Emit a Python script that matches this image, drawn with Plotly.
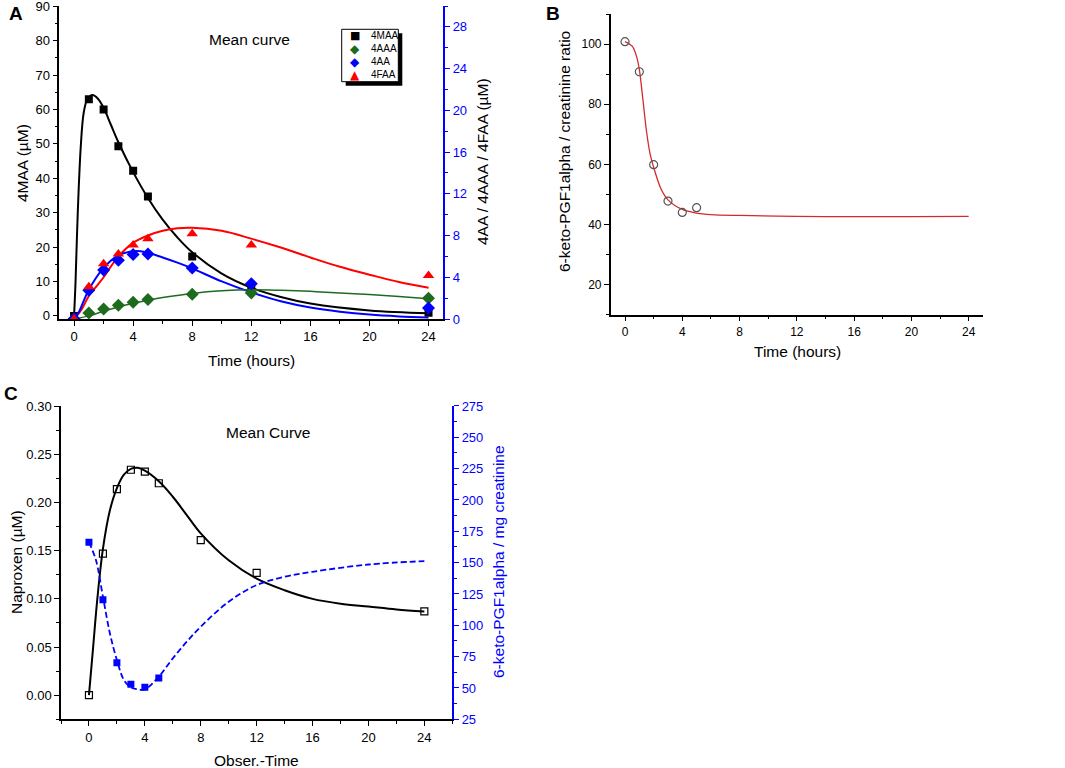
import plotly.graph_objects as go

W, H = 1065, 768
BLUE = "#0000ff"
GREEN = "#1e6b1e"
RED = "#ff0000"
FONT = "Liberation Sans, Arial, sans-serif"

# ---- panel A: measured means ----
t_a = [0, 1, 2, 3, 4, 5, 8, 12, 24]
mmaa = [0, 63, 60, 49.3, 42.2, 34.7, 17.3, 8, 0.9]
aaa = [0, 0.58, 0.96, 1.31, 1.6, 1.86, 2.37, 2.5, 2.0]
aa = [0, 2.75, 4.7, 5.63, 6.18, 6.24, 4.9, 3.39, 1.06]
faa = [0, 3.1, 5.3, 6.24, 7.1, 7.7, 8.16, 7.1, 4.16]

# panel A: fitted curves
t_mmaa_fit = [0, 0.1, 0.25, 0.45, 0.65, 0.9, 1.25, 1.6, 2, 2.5, 3, 4, 5, 6, 7, 8, 10, 12, 14, 16, 20, 24]
mmaa_fit = [0, 10, 30, 49, 59, 63, 64.2, 63.2, 60.5, 55.5, 50.5, 41.8, 34.3, 28, 22.8, 18.5, 12.3, 8.2, 5.5, 3.6, 1.6, 0.8]
t_aaa_fit = [0, 1, 2, 3, 4, 5, 6, 8, 10, 12, 14, 16, 18, 20, 22, 24]
aaa_fit = [0, 0.3, 0.75, 1.15, 1.5, 1.8, 2.05, 2.45, 2.7, 2.8, 2.75, 2.65, 2.5, 2.35, 2.15, 1.95]
t_aa_fit = [0, 0.3, 1, 2, 3, 4, 4.5, 5, 6, 7, 8, 10, 12, 14, 16, 18, 20, 22, 24]
aa_fit = [0, 0.6, 2.8, 4.9, 6.1, 6.5, 6.5, 6.35, 5.9, 5.4, 4.85, 3.6, 2.55, 1.7, 1.1, 0.7, 0.42, 0.25, 0.15]
t_faa_fit = [0, 0.5, 1, 1.5, 2, 3, 4, 5, 6, 7, 8, 10, 12, 14, 16, 18, 20, 22, 24]
faa_fit = [0, 0.9, 2.2, 3.1, 4.0, 6.0, 7.3, 8.0, 8.45, 8.7, 8.75, 8.45, 7.7, 6.85, 5.9, 5.0, 4.25, 3.55, 3.0]

legend_names = ["4MAA", "4AAA", "4AA", "4FAA"]
legend_glyphs = ["■", "◆", "◆", "▲"]
legend_colors = ["black", GREEN, BLUE, RED]

# ---- panel B ----
t_b = [0, 1, 2, 3, 4, 5]
pgf_ratio = [100.8, 90.8, 59.9, 47.8, 44.0, 45.6]
t_b_fit = [0, 0.5, 0.8, 1, 1.25, 1.5, 1.75, 2, 2.5, 3, 4, 5, 6, 8, 12, 16, 20, 24]
pgf_ratio_fit = [100.8, 99.3, 96, 91.5, 81.5, 71, 63.5, 59, 52, 48.2, 45, 43.8, 43.3, 43.0, 42.7, 42.6, 42.6, 42.7]

# ---- panel C ----
t_c = [0, 1, 2, 3, 4, 5, 8, 12, 24]
naproxen = [0, 0.147, 0.214, 0.234, 0.232, 0.220, 0.161, 0.127, 0.087]
t_c_fit = [0, 0.3, 0.6, 1, 1.5, 2, 2.5, 3, 3.5, 4, 5, 6, 7, 8, 10, 12, 14, 16, 18, 20, 22, 24]
naproxen_fit = [0, 0.05, 0.1, 0.152, 0.192, 0.215, 0.229, 0.235, 0.236, 0.233, 0.222, 0.206, 0.187, 0.168,
                0.140, 0.121, 0.109, 0.100, 0.095, 0.092, 0.089, 0.087]
t_c2 = [0, 1, 2, 3, 4, 5]
pgf_mg = [166.3, 120.4, 70.2, 52.9, 50.5, 57.9]
t_c2_fit = [0, 0.5, 1, 1.5, 2, 2.5, 3, 3.5, 4, 5, 6, 7, 8, 10, 12, 14, 16, 20, 24]
pgf_mg_fit = [166.3, 152, 122.8, 93.5, 72.3, 56.4, 50.5, 48.9, 48.9, 59, 73.6, 86.9, 98.9, 118.8, 132.1,
              138.7, 142.7, 148.5, 151.2]


# page pixel -> paper fraction
def px(x):
    return x / W


def py(y):
    return 1 - y / H


def dom_x(left, right):
    return [px(left), px(right)]


def dom_y(top, bottom):
    return [py(bottom), py(top)]


fig = go.Figure()

# panel A
fig.add_trace(go.Scatter(x=t_mmaa_fit, y=mmaa_fit, mode="lines", line=dict(color="black", width=2, shape="spline"),
                         xaxis="x", yaxis="y", hoverinfo="skip"))
fig.add_trace(go.Scatter(x=t_faa_fit, y=faa_fit, mode="lines", line=dict(color=RED, width=2, shape="spline"),
                         xaxis="x", yaxis="y2", hoverinfo="skip"))
fig.add_trace(go.Scatter(x=t_aa_fit, y=aa_fit, mode="lines", line=dict(color=BLUE, width=2, shape="spline"),
                         xaxis="x", yaxis="y2", hoverinfo="skip"))
fig.add_trace(go.Scatter(x=t_aaa_fit, y=aaa_fit, mode="lines", line=dict(color=GREEN, width=1.5, shape="spline"),
                         xaxis="x", yaxis="y2", hoverinfo="skip"))

fig.add_trace(go.Scatter(x=t_a, y=mmaa, mode="markers", name="4MAA",
                         marker=dict(symbol="square", size=8, color="black"), xaxis="x", yaxis="y"))
fig.add_trace(go.Scatter(x=t_a, y=aaa, mode="markers", name="4AAA",
                         marker=dict(symbol="diamond", size=10, color=GREEN), xaxis="x", yaxis="y2"))
fig.add_trace(go.Scatter(x=t_a, y=aa, mode="markers", name="4AA",
                         marker=dict(symbol="diamond", size=10, color=BLUE), xaxis="x", yaxis="y2"))
fig.add_trace(go.Scatter(x=t_a, y=faa, mode="markers", name="4FAA",
                         marker=dict(symbol="triangle-up", size=10, color=RED), xaxis="x", yaxis="y2"))

# panel B
fig.add_trace(go.Scatter(x=t_b_fit, y=pgf_ratio_fit, mode="lines", line=dict(color="#d42a2a", width=1.3, shape="spline"),
                         xaxis="x3", yaxis="y3", hoverinfo="skip"))
fig.add_trace(go.Scatter(x=t_b, y=pgf_ratio, mode="markers",
                         marker=dict(symbol="circle-open", size=8, color="#555555", line=dict(width=1.2)),
                         xaxis="x3", yaxis="y3"))

# panel C
fig.add_trace(go.Scatter(x=t_c_fit, y=naproxen_fit, mode="lines", line=dict(color="black", width=2, shape="spline"),
                         xaxis="x4", yaxis="y4", hoverinfo="skip"))
fig.add_trace(go.Scatter(x=t_c2_fit, y=pgf_mg_fit, mode="lines",
                         line=dict(color=BLUE, width=1.8, dash="6px,3px", shape="spline"),
                         xaxis="x4", yaxis="y5", hoverinfo="skip"))
fig.add_trace(go.Scatter(x=t_c, y=naproxen, mode="markers",
                         marker=dict(symbol="square-open", size=7, color="black", line=dict(width=1.2)),
                         xaxis="x4", yaxis="y4"))
fig.add_trace(go.Scatter(x=t_c2, y=pgf_mg, mode="markers",
                         marker=dict(symbol="square", size=7, color=BLUE),
                         xaxis="x4", yaxis="y5"))


def axis(color="black", ticks="outside", **kw):
    d = dict(showline=True, linecolor=color, linewidth=1.5, ticks=ticks, tickcolor=color, tickwidth=1.2,
             ticklen=5, showgrid=False, zeroline=False, automargin=False, ticklabeloverflow="allow",
             tickfont=dict(size=13, color=color))
    d.update(kw)
    return d


minor_out = lambda dt, c="black": dict(dtick=dt, ticks="outside", ticklen=3, tickcolor=c, tickwidth=1.2)
minor_in = lambda dt, c=BLUE: dict(dtick=dt, ticks="inside", ticklen=5, tickcolor=c, tickwidth=1.2)

fig.update_layout(
    width=W, height=H,
    margin=dict(l=0, r=0, t=0, b=0),
    paper_bgcolor="white", plot_bgcolor="white",
    showlegend=False,
    font=dict(family=FONT, size=13, color="black"),
    # panel A
    xaxis=axis(domain=dom_x(59.3, 443.3), anchor="y", range=[-1, 25], tick0=0, dtick=4, minor=minor_out(2)),
    xaxis2=axis(color=BLUE, ticks="inside", overlaying="x", anchor="y", side="top", range=[-1, 25],
                tick0=0, dtick=4, showticklabels=False, minor=minor_in(2)),
    yaxis=axis(domain=dom_y(6, 319), anchor="x", range=[-0.9, 90.1], tick0=0, dtick=10, minor=minor_out(5)),
    yaxis2=axis(color=BLUE, overlaying="y", anchor="x", side="right", range=[0, 30], tick0=0, dtick=4,
                minor=minor_out(2, BLUE)),
    # panel B
    xaxis3=axis(domain=dom_x(610.7, 983), anchor="y3", range=[-1, 25], tick0=0, dtick=4, minor=minor_out(2),
                tickfont=dict(size=12, color="black")),
    yaxis3=axis(domain=dom_y(14, 314.7), anchor="x3", range=[10, 110], tick0=0, dtick=20, minor=minor_out(10),
                tickfont=dict(size=12, color="black")),
    # panel C
    xaxis4=axis(domain=dom_x(61, 452.3), anchor="y4", range=[-2, 26], tick0=0, dtick=4, minor=minor_out(2)),
    xaxis5=axis(color=BLUE, ticks="inside", overlaying="x4", anchor="y4", side="top", range=[-2, 26],
                tick0=0, dtick=4, showticklabels=False, minor=minor_in(2)),
    yaxis4=axis(domain=dom_y(405.7, 719.3), anchor="x4", range=[-0.025, 0.3005], tick0=0, dtick=0.05,
                tickformat=".2f", minor=minor_out(0.025)),
    yaxis5=axis(color=BLUE, overlaying="y4", anchor="x4", side="right", range=[25, 275.2], tick0=25, dtick=25,
                minor=minor_out(12.5, BLUE)),
)

# legend box of panel A, with its drop shadow
fig.add_shape(type="rect", xref="paper", yref="paper", x0=px(345.7), x1=px(402.3), y0=py(85.7), y1=py(33.3),
              fillcolor="black", line=dict(width=0), layer="above")
fig.add_shape(type="rect", xref="paper", yref="paper", x0=px(341.7), x1=px(398.3), y0=py(81.7), y1=py(29.3),
              fillcolor="white", line=dict(color="black", width=1), layer="above")


def label(text, x, y, size=15.5, angle=0, color="black", bold=False, xanchor="center"):
    fig.add_annotation(text=f"<b>{text}</b>" if bold else text, x=px(x), y=py(y), xref="paper", yref="paper",
                       showarrow=False, textangle=angle, font=dict(size=size, color=color),
                       xanchor=xanchor, yanchor="middle")


for i, (name, glyph, col) in enumerate(zip(legend_names, legend_glyphs, legend_colors)):
    row_y = 35.5 + i * 13.1
    fig.add_annotation(text=glyph, x=px(355), y=py(row_y), xref="paper", yref="paper", showarrow=False,
                       font=dict(size=11 if glyph == "■" else 12, color=col, family="DejaVu Sans"),
                       xanchor="center", yanchor="middle")
    label(name, 368.5, row_y, size=10, xanchor="left")

label("A", 16, 14, size=19, bold=True)
label("B", 553, 14, size=19, bold=True)
label("C", 11, 393, size=19, bold=True)

label("Mean curve", 249, 39)
label("Mean Curve", 268, 432)

label("4MAA (µM)", 22, 163, angle=-90)
label("4AA / 4AAA / 4FAA (µM)", 482, 162, angle=-90)
label("Time (hours)", 251, 360)

label("6-keto-PGF1alpha / creatinine ratio", 565, 152, angle=-90)
label("Time (hours)", 797, 352)

label("Naproxen (µM)", 16, 562, angle=-90)
label("6-keto-PGF1alpha / mg creatinine", 498, 562, angle=-90, color=BLUE)
label("Obser.-Time", 256, 760)

# drop the default body margin so the figure sits in the window corner
fig.write_html("out.html", config={"displayModeBar": False},
               post_script="document.body.style.margin='0';")
